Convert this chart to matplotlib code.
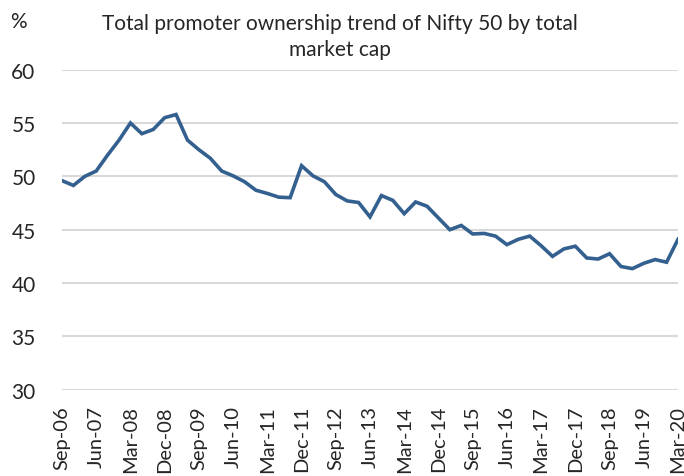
import matplotlib
matplotlib.use("Agg")
import matplotlib.pyplot as plt

quarters = ["Sep-06","Dec-06","Mar-07","Jun-07","Sep-07","Dec-07","Mar-08","Jun-08","Sep-08","Dec-08",
            "Mar-09","Jun-09","Sep-09","Dec-09","Mar-10","Jun-10","Sep-10","Dec-10","Mar-11","Jun-11",
            "Sep-11","Dec-11","Mar-12","Jun-12","Sep-12","Dec-12","Mar-13","Jun-13","Sep-13","Dec-13",
            "Mar-14","Jun-14","Sep-14","Dec-14","Mar-15","Jun-15","Sep-15","Dec-15","Mar-16","Jun-16",
            "Sep-16","Dec-16","Mar-17","Jun-17","Sep-17","Dec-17","Mar-18","Jun-18","Sep-18","Dec-18",
            "Mar-19","Jun-19","Sep-19","Dec-19","Mar-20"]
ownership = [49.6, 49.15, 50.0, 50.5, 52.0, 53.4, 55.0, 54.0, 54.4, 55.5,
             55.8, 53.4, 52.5, 51.7, 50.5, 50.05, 49.5, 48.7, 48.4, 48.05,
             48.0, 51.0, 50.05, 49.5, 48.3, 47.7, 47.55, 46.2, 48.2, 47.75,
             46.5, 47.6, 47.2, 46.1, 45.0, 45.4, 44.6, 44.65, 44.4, 43.6,
             44.1, 44.4, 43.5, 42.5, 43.2, 43.45, 42.35, 42.25, 42.75, 41.55,
             41.35, 41.85, 42.2, 41.95, 44.1]
yticks = [30, 35, 40, 45, 50, 55, 60]
title = "Total promoter ownership trend of Nifty 50 by total\nmarket cap"

plt.rcParams['font.family'] = ['Lato', 'DejaVu Sans']

fig = plt.figure(figsize=(6.84, 4.77), dpi=100)
ax = fig.add_axes([62/684, 1-390.7/477, (678-62)/684, (390.7-70.7)/477])

x = list(range(len(quarters)))
ax.plot(x, ownership, color='#33608F', linewidth=2.6, solid_joinstyle='miter', zorder=3)

ax.set_xlim(0, len(quarters)-1)
ax.set_ylim(30, 60)
ax.set_yticks(yticks)
ax.set_yticklabels([str(v) for v in yticks], fontsize=15, color='#262626')
ax.set_xticks(x[::3])
ax.set_xticklabels(quarters[::3], rotation=90, fontsize=14.5, color='#262626')
ax.tick_params(axis='both', length=0)
ax.tick_params(axis='y', pad=19)
ax.tick_params(axis='x', pad=11)
ax.grid(axis='y', color='#D9D9D9', linewidth=1.5)
ax.set_axisbelow(True)
for s in ax.spines.values():
    s.set_visible(False)

fig.text(0.497, 1-37/477, title, ha='center', va='center', fontsize=15, color='#262626',
         linespacing=1.4)
fig.text(10/684, 1-22/477, "%", ha='left', va='center', fontsize=15, color='#262626')

fig.savefig("out.png", dpi=100, facecolor='white')
